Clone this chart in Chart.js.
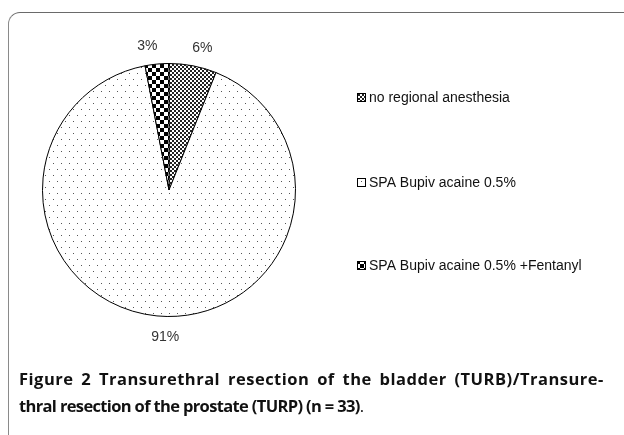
<!DOCTYPE html>
<html>
<head>
<meta charset="utf-8">
<script src="https://cdn.jsdelivr.net/npm/chart.js@4.4.1/dist/chart.umd.min.js"></script>
<style>
  html, body { margin: 0; padding: 0; background: #fff; }
  #wrap { position: relative; width: 624px; height: 435px; overflow: hidden; }
  #frame {
    position: absolute; left: 8px; top: 12px; width: 700px; height: 500px;
    border-left: 1.5px solid #8a8a8a; border-top: 1.5px solid #6a6a6a;
    border-top-left-radius: 12px;
  }
  #c { position: absolute; left: 0; top: 0; }
  #caption {
    position: absolute; left: 19px; top: 365px; width: 610px;
    font-family: "Open Sans", sans-serif; font-size: 16.5px; line-height: 27px;
    color: #111; white-space: nowrap; font-weight: 700;
  }
  #caption .l1 { display: block; letter-spacing: 0.5px; word-spacing: 3px; }
  #caption .l2 { display: block; letter-spacing: -0.65px; }
  #caption .pt { font-weight: 400; }
</style>
</head>
<body>
<div id="wrap">
  <div id="frame"></div>
  <canvas id="c" width="624" height="435"></canvas>
  <div id="caption"><span class="l1">Figure 2 Transurethral resection of the bladder (TURB)/Transure-</span><span class="l2">thral resection of the prostate (TURP) (n = 33)<span class="pt">.</span></span></div>
</div>
<script>
// valeurs (patients, n = 33)
const categories = ['no regional anesthesia', 'SPA Bupivacaine 0.5%', 'SPA Bupivacaine 0.5% +Fentanyl'];
const legendLabels = ['no regional anesthesia', 'SPA Bupiv acaine 0.5%', 'SPA Bupiv acaine 0.5% +Fentanyl'];
const patients = [2, 30, 1];
const pctLabels = ['6%', '91%', '3%'];

function makePattern(kind) {
    const t = document.createElement('canvas');
    const g = t.getContext('2d');
    if (kind === 'fine') {
        t.width = 4; t.height = 4;
        g.fillStyle = '#fff'; g.fillRect(0, 0, 4, 4);
        g.fillStyle = '#222';
        g.fillRect(0, 0, 2, 2); g.fillRect(2, 2, 2, 2);
    } else if (kind === 'dots') {
        t.width = 8; t.height = 12;
        g.fillStyle = '#fff'; g.fillRect(0, 0, 8, 12);
        g.fillStyle = '#555';
        g.fillRect(1, 1, 1, 1); g.fillRect(5, 7, 1, 1);
    } else {
        t.width = 8; t.height = 8;
        g.fillStyle = '#fff'; g.fillRect(0, 0, 8, 8);
        g.fillStyle = '#000';
        g.fillRect(0, 0, 4, 4); g.fillRect(4, 4, 4, 4);
    }
    return document.getElementById('c').getContext('2d').createPattern(t, 'repeat');
}

const patterns = [makePattern('fine'), makePattern('dots'), makePattern('checker')];

// étiquettes de pourcentage + légende à la main
const labelsPlugin = {
    id: 'labelsPlugin',
    afterDraw(chart) {
        const ctx = chart.ctx;
        const meta = chart.getDatasetMeta(0);
        ctx.save();
        ctx.font = '14px "Liberation Sans", Arial, sans-serif';
        ctx.fillStyle = '#333';
        ctx.textAlign = 'center';
        ctx.textBaseline = 'middle';
        meta.data.forEach((arc, i) => {
            const mid = (arc.startAngle + arc.endAngle) / 2;
            const r = arc.outerRadius + 18;
            let x = arc.x + Math.cos(mid) * r;
            let y = arc.y + Math.sin(mid) * r;
            if (i === 2) x -= 8;
            if (i === 0) x += 6;
            if (i === 1) { x += 10; y += 3; }
            ctx.fillText(pctLabels[i], x, y);
        });
        // légende
        const lx = 357, ys = [97, 182, 265];
        ctx.textAlign = 'left';
        ctx.font = '14px "Liberation Sans", Arial, sans-serif';
        legendLabels.forEach((lab, i) => {
            ctx.fillStyle = patterns[i];
            ctx.fillRect(lx, ys[i] - 4, 9, 9);
            ctx.strokeStyle = '#000';
            ctx.lineWidth = 1;
            ctx.strokeRect(lx + 0.5, ys[i] - 3.5, 8, 8);
            ctx.fillStyle = '#111';
            ctx.fillText(lab, lx + 12, ys[i] + 1);
        });
        ctx.restore();
    }
};

new Chart(document.getElementById('c').getContext('2d'), {
    type: 'pie',
    data: {
        labels: categories,
        datasets: [{
            data: patients,
            backgroundColor: patterns,
            borderColor: '#000',
            borderWidth: 1
        }]
    },
    options: {
        responsive: false,
        animation: false,
        layout: { padding: { left: 42, top: 63, right: 328, bottom: 118 } },
        plugins: { legend: { display: false }, tooltip: { enabled: false } }
    },
    plugins: [labelsPlugin]
});
</script>
</body>
</html>
